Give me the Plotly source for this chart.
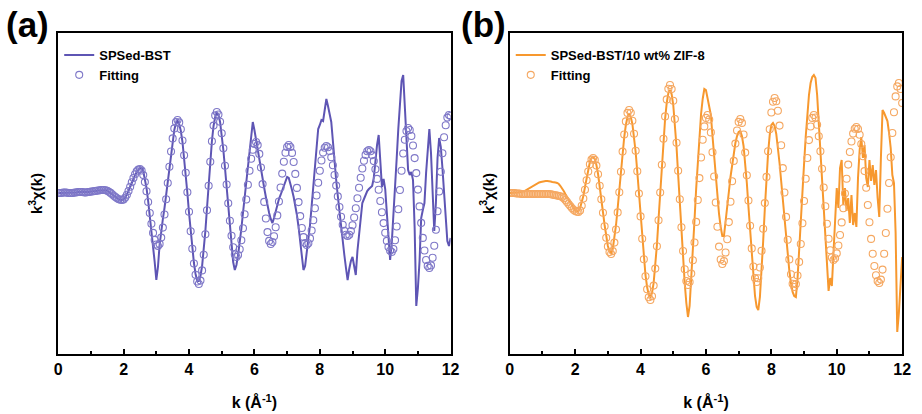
import plotly.graph_objects as go

# ---------------- data ----------------
K_STEP = 0.05
K = [round(i * K_STEP, 2) for i in range(241)]   # k grid, 0 ... 12 Å^-1

LINE_A = [0.0,0.0,0.0,0.05,0.05,0.05,0.0,0.0,0.0,0.0, 0.05,0.05,0.1,0.1,0.1,0.1,0.05,0.05,0.1,0.1,
          0.15,0.15,0.2,0.2,0.25,0.25,0.3,0.3,0.3,
          0.28,0.22,0.13,0.01,-0.13,-0.27,-0.41,-0.53,-0.62,-0.68,-0.7,
          -0.62,-0.45,-0.15,0.2,0.6,1.0,1.4,1.8,2.1,2.3,2.45,2.5,
          2.2,1.5,0.5,-0.8,-2.2,-3.6,-5.0,-6.9,-8.7,
          -7.4,-5.2,-3.6,-2.6,-1.5,-0.2,1.2,2.6,4.0,5.3,6.3,7.0,7.2,
          6.9,6.2,5.1,3.6,1.9,0.0,-2.0,-3.9,-5.6,-7.0,-8.1,-8.8,-8.8,
          -8.3,-7.3,-5.8,-3.8,-1.5,0.9,3.2,5.2,6.7,7.6,8.0,
          7.8,7.1,5.9,4.3,2.5,0.5,-1.5,-3.5,-5.3,-6.9,-7.7,
          -7.2,-6.2,-5.0,-3.6,-2.0,-0.4,1.3,3.0,4.6,6.0,7.1,
          6.3,5.3,4.4,3.3,2.1,1.2,0.5,-0.4,-1.3,-2.0,-2.6,-3.0,
          -2.5,-1.8,-1.2,-0.6,-0.2,0.3,0.8,1.3,1.6,
          1.5,1.0,0.3,-0.4,-1.2,-2.2,-3.4,-4.7,-6.2,-7.7,
          -7.3,-6.0,-4.8,-3.2,-1.3,0.6,2.6,4.6,6.4,6.8,7.3,7.2,8.3,9.4,
          8.7,8.0,7.1,5.2,3.0,1.3,-0.3,-1.9,-3.3,-4.8,-6.2,-7.5,-8.7,
          -7.6,-6.8,-6.4,-7.3,-8.2,-5.8,-4.0,-2.5,-1.0,-0.6,-0.1,0.2,0.4,0.6,0.7,1.5,3.2,4.8,5.8,
          2.8,0.6,1.4,0.4,-2.0,-4.6,-6.7,-5.0,-2.5,0.0,3.4,6.4,9.2,11.2,11.8,
          8.4,4.6,2.3,1.8,2.1,1.3,-3.5,-11.3,-9.5,-6.8,-2.5,-1.7,-1.0,2.0,4.6,
          6.4,4.0,0.2,-3.8,-1.0,3.5,5.5,4.6,2.5,0.2,-2.5,-4.8,-5.3,-4.5]

FIT_A = [0.0,0.0,0.0,0.05,0.05,0.05,0.0,0.0,0.0,0.0, 0.05,0.05,0.1,0.1,0.1,0.1,0.05,0.05,0.1,0.1,
         0.15,0.15,0.2,0.2,0.25,0.25,0.3,0.3,0.3,
         0.28,0.22,0.13,0.01,-0.13,-0.27,-0.41,-0.53,-0.62,-0.68,-0.7,
         -0.64,-0.46,-0.17,0.2,0.63,1.07,1.5,1.87,2.16,2.34,2.4,
         2.25,1.79,1.09,0.18,-0.9,-2.0,-3.07,-3.99,-4.69,-5.15,-5.3,
         -5.09,-4.46,-3.46,-2.15,-0.63,1.0,2.63,4.15,5.46,6.46,7.09,7.3,
         7.06,6.37,5.25,3.77,2.02,0.08,-1.88,-3.82,-5.57,-7.05,-8.17,-8.85,-9.1,
         -8.76,-7.74,-6.18,-4.13,-1.72,0.72,3.13,5.18,6.74,7.76,8.1,
         7.85,7.13,5.98,4.47,2.72,0.85,-1.02,-2.78,-4.28,-5.43,-6.15,-6.4,
         -6.2,-5.63,-4.72,-3.52,-2.13,-0.65,0.83,2.23,3.42,4.33,4.9,5.1,
         4.79,3.91,2.55,0.89,-0.89,-2.55,-3.91,-4.79,-5.1,
         -4.9,-4.32,-3.42,-2.24,-0.85,0.55,1.94,3.12,4.02,4.6,4.8,
         4.6,4.01,3.1,1.91,0.51,-0.91,-2.31,-3.5,-4.41,-5.0,-5.2,
         -5.03,-4.54,-3.75,-2.73,-1.53,-0.25,1.03,2.23,3.25,4.04,4.53,4.7,
         4.57,4.19,3.58,2.77,1.8,0.74,-0.34,-1.4,-2.37,-3.18,-3.79,-4.17,-4.3,
         -4.17,-3.81,-3.23,-2.45,-1.53,-0.52,0.52,1.53,2.45,3.23,3.81,4.17,4.3,
         4.17,3.79,3.19,2.38,1.41,0.33,-0.8,-1.93,-3.01,-3.98,-4.79,-5.39,-5.77,-5.9,
         -5.6,-4.72,-3.35,-1.62,0.3,2.22,3.95,5.32,6.2,6.5,
         6.3,5.7,4.75,3.49,1.99,0.34,-1.34,-2.99,-4.49,-5.75,-6.7,-7.29,-7.5,
         -7.24,-6.47,-5.27,-3.68,-1.82,0.15,2.12,3.98,5.57,6.77,7.54,7.8,7.7]

LINE_B = [0.0,0.0,0.0,0.0,0.05,0.05,0.1,0.1,0.15,0.2,0.3,
          0.4,0.5,0.6,0.7,0.8,0.9,1.0,1.05,1.1,1.15,1.2,1.2,1.2,1.2,1.15,1.1,1.1,1.05,1.0,0.9,
          0.7,0.5,0.2,-0.1,-0.4,-0.7,-1.0,-1.3,-1.55,-1.75,-1.85,-1.8,-1.5,-1.0,-0.3,0.6,1.5,2.4,3.1,3.5,3.6,
          3.4,2.8,1.9,0.8,-0.5,-1.9,-3.2,-4.4,-5.3,-5.8,-6.0,
          -5.6,-4.6,-3.2,-1.5,0.4,2.3,4.1,5.6,6.8,7.6,7.9,
          7.6,6.9,5.7,4.1,2.1,-0.1,-2.3,-4.5,-6.5,-8.2,-9.4,-10.2,-10.4,
          -10.0,-9.0,-7.4,-5.2,-2.6,0.1,2.8,5.3,7.4,9.0,10.0,10.3,
          9.9,8.8,7.0,4.6,1.8,-1.1,-4.0,-6.6,-9.0,-11.0,-12.4,
          -11.3,-8.8,-5.8,-2.7,0.4,3.3,5.8,7.9,9.4,10.4,10.3,
          9.5,8.8,7.8,5.7,3.6,1.6,-0.4,-2.1,-3.4,-4.3,-4.3,
          -3.0,-1.5,0.1,1.6,2.9,4.0,5.0,5.7,6.1,6.2,
          5.7,4.7,3.1,1.0,-1.4,-3.9,-6.3,-8.5,-10.3,-11.4,-11.7,
          -10.4,-7.9,-4.8,-1.6,1.5,4.0,5.8,6.8,7.0,
          6.7,5.9,4.6,3.0,1.2,-0.7,-2.7,-4.6,-6.3,-7.8,-9.0,-9.9,-10.3,-10.4,
          -8.6,-6.0,-3.0,0.0,2.9,5.6,7.9,9.8,11.0,11.6,11.8,
          11.5,9.8,7.0,4.0,1.0,-1.8,-4.6,-7.3,-9.8,
          -8.5,-9.3,-6.0,-2.5,0.5,-1.5,2.5,3.3,-1.2,0.5,-1.8,-0.5,-3.0,-0.2,-3.2,-2.0,-3.4,
          1.5,4.3,5.6,3.5,4.8,1.5,0.6,3.3,1.2,2.8,0.8,2.3,-0.5,-2.4,
          3.5,8.3,8.0,7.5,7.2,6.0,4.5,1.8,1.0,-4.0,-13.9,-12.0,-9.0,-6.4]

FIT_B = [0.0,0.0,0.0,0.0,-0.05,-0.05,-0.05,-0.1,-0.1,-0.1, -0.1,-0.1,-0.1,-0.1,-0.1,-0.1,-0.1,-0.1,-0.1,-0.1,
         -0.1,-0.1,-0.1,-0.1,-0.1,
         -0.12,-0.15,-0.2,-0.22,-0.25,-0.3,
         -0.33,-0.41,-0.53,-0.7,-0.89,-1.1,-1.31,-1.5,-1.67,-1.79,-1.87,-1.9,
         -1.74,-1.27,-0.55,0.33,1.27,2.15,2.87,3.34,3.5,
         3.31,2.74,1.87,0.73,-0.62,-1.98,-3.33,-4.47,-5.34,-5.91,-6.1,
         -5.81,-4.96,-3.65,-1.94,0.08,2.12,4.14,5.85,7.16,8.01,8.3,
         8.02,7.22,5.93,4.22,2.18,-0.06,-2.34,-4.58,-6.62,-8.33,-9.62,-10.42,-10.7,
         -10.33,-9.26,-7.56,-5.33,-2.72,0.05,2.82,5.43,7.66,9.36,10.43,10.8,
         10.4,9.22,7.4,5.02,2.22,-0.62,-3.42,-5.8,-7.62,-8.8,-9.2,
         -8.91,-8.06,-6.72,-4.95,-2.89,-0.7,1.49,3.55,5.32,6.66,7.51,7.8,
         7.35,6.06,4.08,1.65,-0.95,-3.38,-5.36,-6.65,-7.1,
         -6.81,-5.95,-4.63,-2.91,-0.88,1.18,3.21,4.94,6.25,7.11,7.4,
         7.01,5.85,4.04,1.78,-0.75,-3.28,-5.54,-7.35,-8.51,-8.9,
         -8.53,-7.45,-5.77,-3.58,-1.01,1.61,4.18,6.37,8.05,9.13,9.5,
         9.18,8.23,6.74,4.78,2.49,0.05,-2.39,-4.68,-6.64,-8.13,-9.08,-9.4,
         -9.11,-8.25,-6.89,-5.1,-3.02,-0.8,1.42,3.5,5.29,6.65,7.51,7.8,
         7.55,6.83,5.68,4.18,2.42,0.55,-1.32,-3.08,-4.58,-5.73,-6.45,-6.7,
         -6.53,-6.04,-5.25,-4.2,-2.94,-1.53,-0.05,1.43,2.84,4.1,5.15,5.94,6.43,6.6,
         6.4,5.82,4.9,3.67,2.19,0.53,-1.2,-2.93,-4.59,-6.07,-7.3,-8.22,-8.81,-9.0,
         -8.66,-7.66,-6.08,-4.0,-1.58,1.0,3.58,6.0,8.08,9.66,10.66,11.0,10.4,9.0]

NAME_A = "SPSed-BST"
NAME_B = "SPSed-BST/10 wt% ZIF-8"
FIT_NAME = "Fitting"
PANEL_LABELS = ["(a)", "(b)"]
X_TICKS = [0, 2, 4, 6, 8, 10, 12]
X_TITLE = "k (Å<sup>-1</sup>)"
Y_TITLE = "k<sup>3</sup>χ(k)"

# ---------------- style ----------------
PURPLE = "#5e55b4"
PURPLE_FIT = "#7f78c8"
ORANGE = "#f7982e"
ORANGE_FIT = "#f5a862"
FONT = "Liberation Sans, Arial, sans-serif"
W, H = 922, 414

def px_x(p):
    return p / W

def px_y(p):
    return 1 - p / H

fig = go.Figure()
fig.add_trace(go.Scatter(x=K, y=LINE_A, mode="lines", name=NAME_A,
                         line=dict(color=PURPLE, width=2), xaxis="x", yaxis="y", legend="legend"))
fig.add_trace(go.Scatter(x=K, y=FIT_A, mode="markers", name=FIT_NAME,
                         marker=dict(symbol="circle-open", size=7, color=PURPLE_FIT, line=dict(width=1.1)),
                         xaxis="x", yaxis="y", legend="legend"))
fig.add_trace(go.Scatter(x=K, y=LINE_B, mode="lines", name=NAME_B,
                         line=dict(color=ORANGE, width=2), xaxis="x2", yaxis="y2", legend="legend2"))
fig.add_trace(go.Scatter(x=K, y=FIT_B, mode="markers", name=FIT_NAME,
                         marker=dict(symbol="circle-open", size=7, color=ORANGE_FIT, line=dict(width=1.1)),
                         xaxis="x2", yaxis="y2", legend="legend2"))

xdom = [[px_x(55), px_x(453)], [px_x(513), px_x(911)]]
ydom = [px_y(354), px_y(33)]

def xaxis_cfg(dom, anchor):
    return dict(domain=dom, anchor=anchor, range=[0, 12], showline=True, linecolor="black",
                linewidth=2, mirror=True, ticks="inside", ticklen=5, tickwidth=1.5,
                tickcolor="black", tickvals=X_TICKS, showgrid=False, zeroline=False,
                minor=dict(ticks="inside", ticklen=3, tickwidth=1.5, dtick=1, tick0=0,
                           tickcolor="black", showgrid=False),
                tickfont=dict(family=FONT, size=16, color="black", weight="bold"),
                title=dict(text=X_TITLE, standoff=20,
                           font=dict(family=FONT, size=16, color="black", weight="bold")))

def yaxis_cfg(anchor):
    return dict(domain=ydom, anchor=anchor, range=[-16.1, 16.0], showline=True, linecolor="black",
                linewidth=2, mirror=True, ticks="", showticklabels=False, showgrid=False,
                zeroline=False,
                title=dict(text=Y_TITLE, standoff=10,
                           font=dict(family=FONT, size=15, color="black", weight="bold")))

legend_common = dict(xanchor="left", yanchor="top", bgcolor="rgba(0,0,0,0)", borderwidth=0,
                     tracegroupgap=0, itemwidth=30,
                     font=dict(family=FONT, size=13, color="black", weight="bold"))

fig.update_layout(
    width=W, height=H, margin=dict(l=0, r=0, t=0, b=0),
    paper_bgcolor="white", plot_bgcolor="white", showlegend=True,
    xaxis=xaxis_cfg(xdom[0], "y"), yaxis=yaxis_cfg("x"),
    xaxis2=xaxis_cfg(xdom[1], "y2"), yaxis2=yaxis_cfg("x2"),
    legend=dict(x=px_x(56), y=px_y(40), **legend_common),
    legend2=dict(x=px_x(514), y=px_y(40), **legend_common),
    annotations=[
        dict(text=PANEL_LABELS[0], x=px_x(0), y=px_y(24), xref="paper", yref="paper",
             xanchor="left", yanchor="middle", showarrow=False,
             font=dict(family=FONT, size=35, color="black", weight="bold")),
        dict(text=PANEL_LABELS[1], x=px_x(462), y=px_y(24), xref="paper", yref="paper",
             xanchor="left", yanchor="middle", showarrow=False,
             font=dict(family=FONT, size=35, color="black", weight="bold")),
    ],
)

fig.write_html("out.html")
